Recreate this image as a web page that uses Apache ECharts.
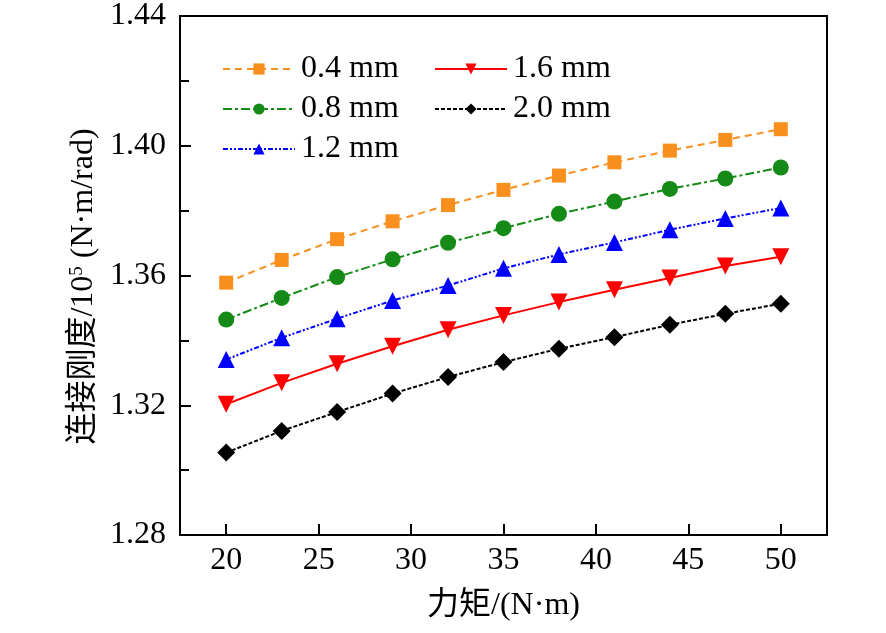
<!DOCTYPE html>
<html><head><meta charset="utf-8">
<script src="https://cdn.jsdelivr.net/npm/echarts@6/dist/echarts.min.js"></script>
<style>html,body{margin:0;padding:0;background:#fff}#c{width:886px;height:633px}</style>
</head><body><div id="c"></div>
<script>
const torque = [20, 23, 26, 29, 32, 35, 38, 41, 44, 47, 50];
const xTicks = [20, 25, 30, 35, 40, 45, 50];
const yTicks = [1.28, 1.32, 1.36, 1.40, 1.44];
const s04 = [1.3578, 1.3648, 1.3712, 1.3767, 1.3817, 1.3864, 1.3908, 1.3949, 1.3985, 1.4018, 1.4051];
const s08 = [1.3464, 1.3531, 1.3595, 1.3650, 1.3701, 1.3746, 1.3790, 1.3828, 1.3867, 1.3899, 1.3933];
const s12 = [1.3341, 1.3408, 1.3467, 1.3523, 1.3569, 1.3622, 1.3665, 1.3702, 1.3741, 1.3776, 1.3808];
const s16 = [1.3203, 1.3269, 1.3328, 1.3382, 1.3433, 1.3477, 1.3518, 1.3556, 1.3592, 1.3629, 1.3658];
const s20 = [1.3054, 1.3121, 1.3179, 1.3236, 1.3287, 1.3333, 1.3374, 1.3410, 1.3448, 1.3482, 1.3513];
const names = ['0.4 mm', '0.8 mm', '1.2 mm', '1.6 mm', '2.0 mm'];

const font = '"Liberation Serif", "Times New Roman", "Noto Sans CJK SC", serif';
const FS = 32;
const pair = a => torque.map((x, i) => [x, a[i]]);

function mk(name, data, color, symbol, size, dash, rot) {
  return {
    name, type: 'line', data: pair(data), symbol, symbolSize: size, symbolRotate: rot || 0,
    lineStyle: { color, width: 2, type: dash }, itemStyle: { color },
    z: 3
  };
}
const legendText = { fontFamily: font, fontSize: FS, color: '#000', padding: [0, 0, 0, 1] };

const chart = echarts.init(document.getElementById('c'));
chart.setOption({
  animation: false,
  textStyle: { fontFamily: font, color: '#000' },
  grid: { left: 180, right: 59, top: 15, bottom: 98, show: true, borderColor: '#000', borderWidth: 2 },
  legend: [
    { data: names.slice(0, 3), orient: 'vertical', left: 217, top: 48, itemWidth: 72, itemHeight: 14, itemGap: 8,
      textStyle: legendText },
    { data: names.slice(3), orient: 'vertical', left: 429, top: 48, itemWidth: 72, itemHeight: 14, itemGap: 8,
      textStyle: legendText }
  ],
  xAxis: {
    type: 'value', min: 17.5, max: 52.5, interval: 5,
    name: '力矩/(N·m)', nameLocation: 'middle', nameGap: 55,
    nameTextStyle: { fontFamily: font, fontSize: FS, color: '#000' },
    axisLine: { show: true, lineStyle: { color: '#000', width: 2 } },
    axisTick: { show: true, inside: true, length: 11, lineStyle: { color: '#000', width: 2 }, customValues: xTicks },
    axisLabel: { fontSize: FS, color: '#000', fontFamily: font, margin: 10, customValues: xTicks },
    splitLine: { show: false }
  },
  yAxis: {
    type: 'value', min: 1.28, max: 1.44, interval: 0.04,
    name: '{a|连接刚度/10}{s|5}{a| (N·m/rad)}', nameLocation: 'middle', nameGap: 76,
    nameTextStyle: { fontFamily: font, fontSize: FS, color: '#000', padding: [0, 22, 0, 0],
      rich: { a: { fontFamily: font, fontSize: FS, color: '#000' }, s: { fontFamily: font, fontSize: 19, color: '#000', verticalAlign: 'top', padding: [0, 0, 12, 0] } } },
    axisLine: { show: true, lineStyle: { color: '#000', width: 2 } },
    axisTick: { show: true, inside: true, length: 11, lineStyle: { color: '#000', width: 2 }, customValues: yTicks },
    minorTick: { show: true, splitNumber: 2, length: 9, lineStyle: { color: '#000', width: 2 } },
    axisLabel: { fontSize: FS, color: '#000', fontFamily: font, margin: 14, formatter: v => v.toFixed(2) },
    splitLine: { show: false }
  },
  series: [
    mk(names[0], s04, '#f98f1d', 'rect', 14, [7, 5]),
    mk(names[1], s08, '#168a16', 'circle', 16, [9, 3, 3, 3]),
    mk(names[2], s12, '#0000ff', 'triangle', 17, [5, 2, 2, 2, 2, 2]),
    mk(names[3], s16, '#ff0000', 'triangle', 17, 'solid', 180),
    mk(names[4], s20, '#000000', 'diamond', 18, [4, 2])
  ]
});
</script></body></html>
